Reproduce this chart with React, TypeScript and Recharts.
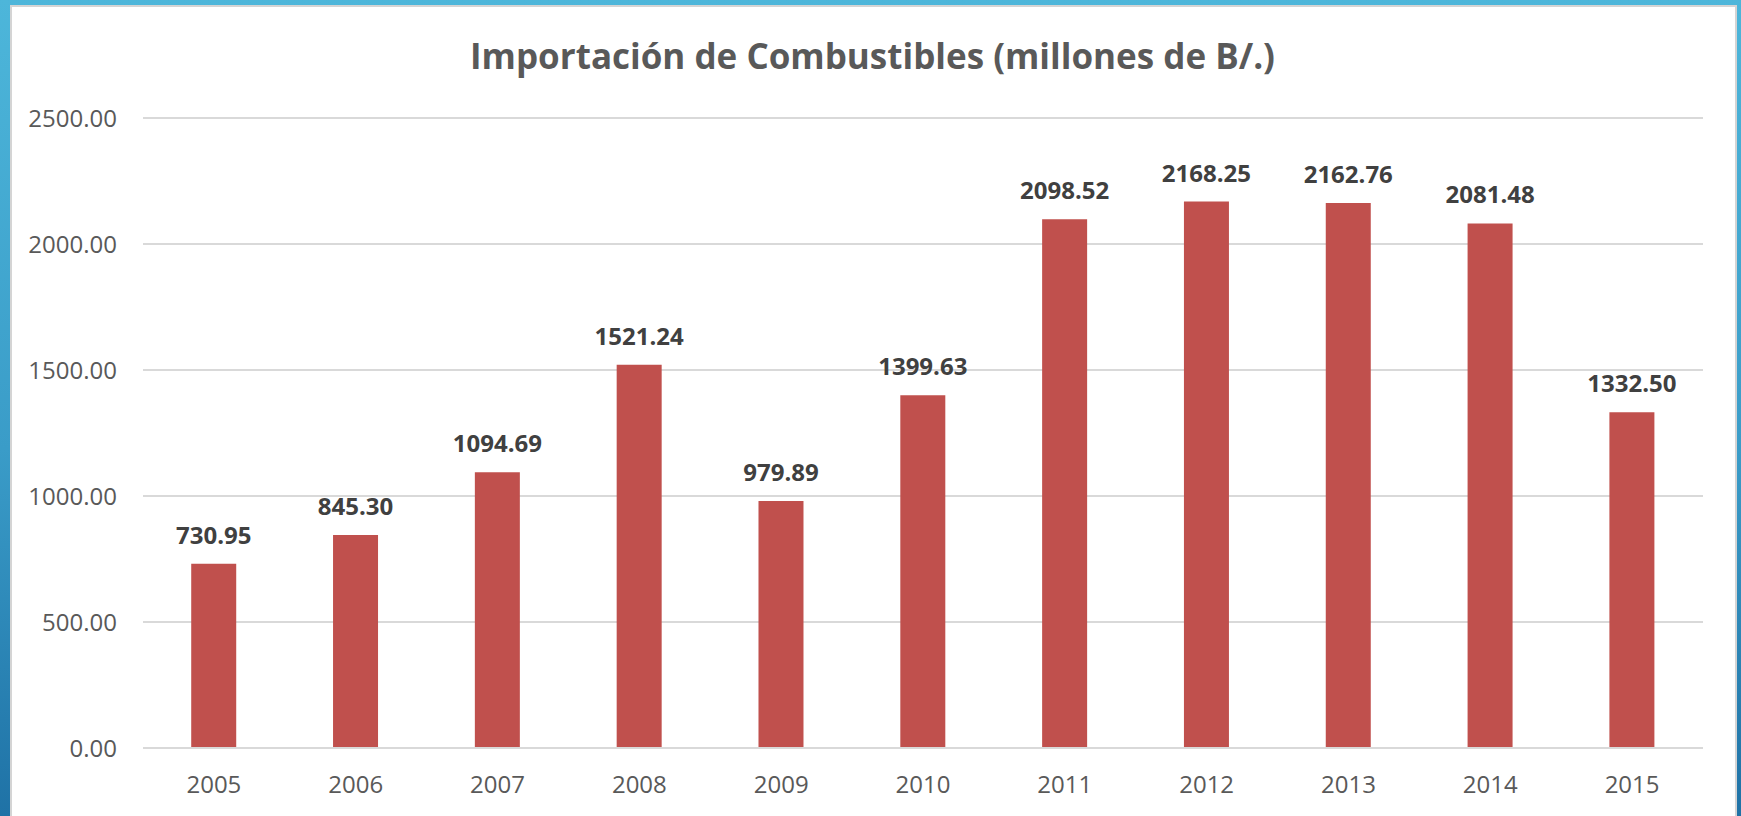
import React from "react";
import { BarChart, Bar, XAxis, YAxis, CartesianGrid, LabelList } from "recharts";

const years = ["2005", "2006", "2007", "2008", "2009", "2010", "2011", "2012", "2013", "2014", "2015"];
const values = [730.95, 845.3, 1094.69, 1521.24, 979.89, 1399.63, 2098.52, 2168.25, 2162.76, 2081.48, 1332.5];
const yTicks = [0, 500, 1000, 1500, 2000, 2500];
const title = "Importación de Combustibles (millones de B/.)";

const data = years.map((y, i) => ({ year: y, value: values[i] }));

const FONT = "'Open Sans', 'Noto Sans', sans-serif";

export default function App() {
  return (
    <div
      style={{
        position: "absolute",
        left: 0,
        top: 0,
        width: 1741,
        height: 816,
        overflow: "hidden",
        background: "linear-gradient(180deg, #4db6da 0%, #3a9cc8 55%, #1f72a6 100%)",
        fontFamily: FONT,
      }}
    >
      <div
        style={{
          position: "absolute",
          left: 10,
          top: 5,
          width: 1727,
          height: 820,
          background: "#ffffff",
          borderLeft: "2px solid #d4d4d4",
          borderTop: "2px solid #d4d4d4",
          borderRight: "2px solid #d4d4d4",
          boxSizing: "border-box",
        }}
      />
      <div
        style={{
          position: "absolute",
          left: 10,
          top: 34,
          width: 1725,
          textAlign: "center",
          fontSize: 35,
          fontWeight: 700,
          color: "#595959",
          lineHeight: "44px",
        }}
      >
        {title}
      </div>
      <div style={{ position: "absolute", left: 0, top: 0 }}>
        <BarChart
          width={1741}
          height={816}
          data={data}
          margin={{ top: 118, right: 38, bottom: 8, left: 0 }}
          barCategoryGap="34%"
        >
          <CartesianGrid vertical={false} stroke="#d9d9d9" strokeWidth={2} />
          <XAxis
            dataKey="year"
            axisLine={{ stroke: "#d9d9d9", strokeWidth: 2 }}
            tickLine={false}
            tickSize={0}
            tickMargin={28}
            height={60}
            tick={{ fill: "#595959", fontSize: 24, fontFamily: FONT }}
            interval={0}
          />
          <YAxis
            width={143}
            domain={[0, 2500]}
            ticks={yTicks}
            axisLine={false}
            tickLine={false}
            tickSize={0}
            tickMargin={26}
            tickFormatter={(v: number) => v.toFixed(2)}
            tick={{ fill: "#595959", fontSize: 24, fontFamily: FONT }}
          />
          <Bar dataKey="value" fill="#c0504d" isAnimationActive={false}>
            <LabelList
              dataKey="value"
              position="top"
              offset={20}
              formatter={(v: number) => v.toFixed(2)}
              style={{ fill: "#404040", fontSize: 24, fontWeight: 700, fontFamily: FONT }}
            />
          </Bar>
        </BarChart>
      </div>
    </div>
  );
}
